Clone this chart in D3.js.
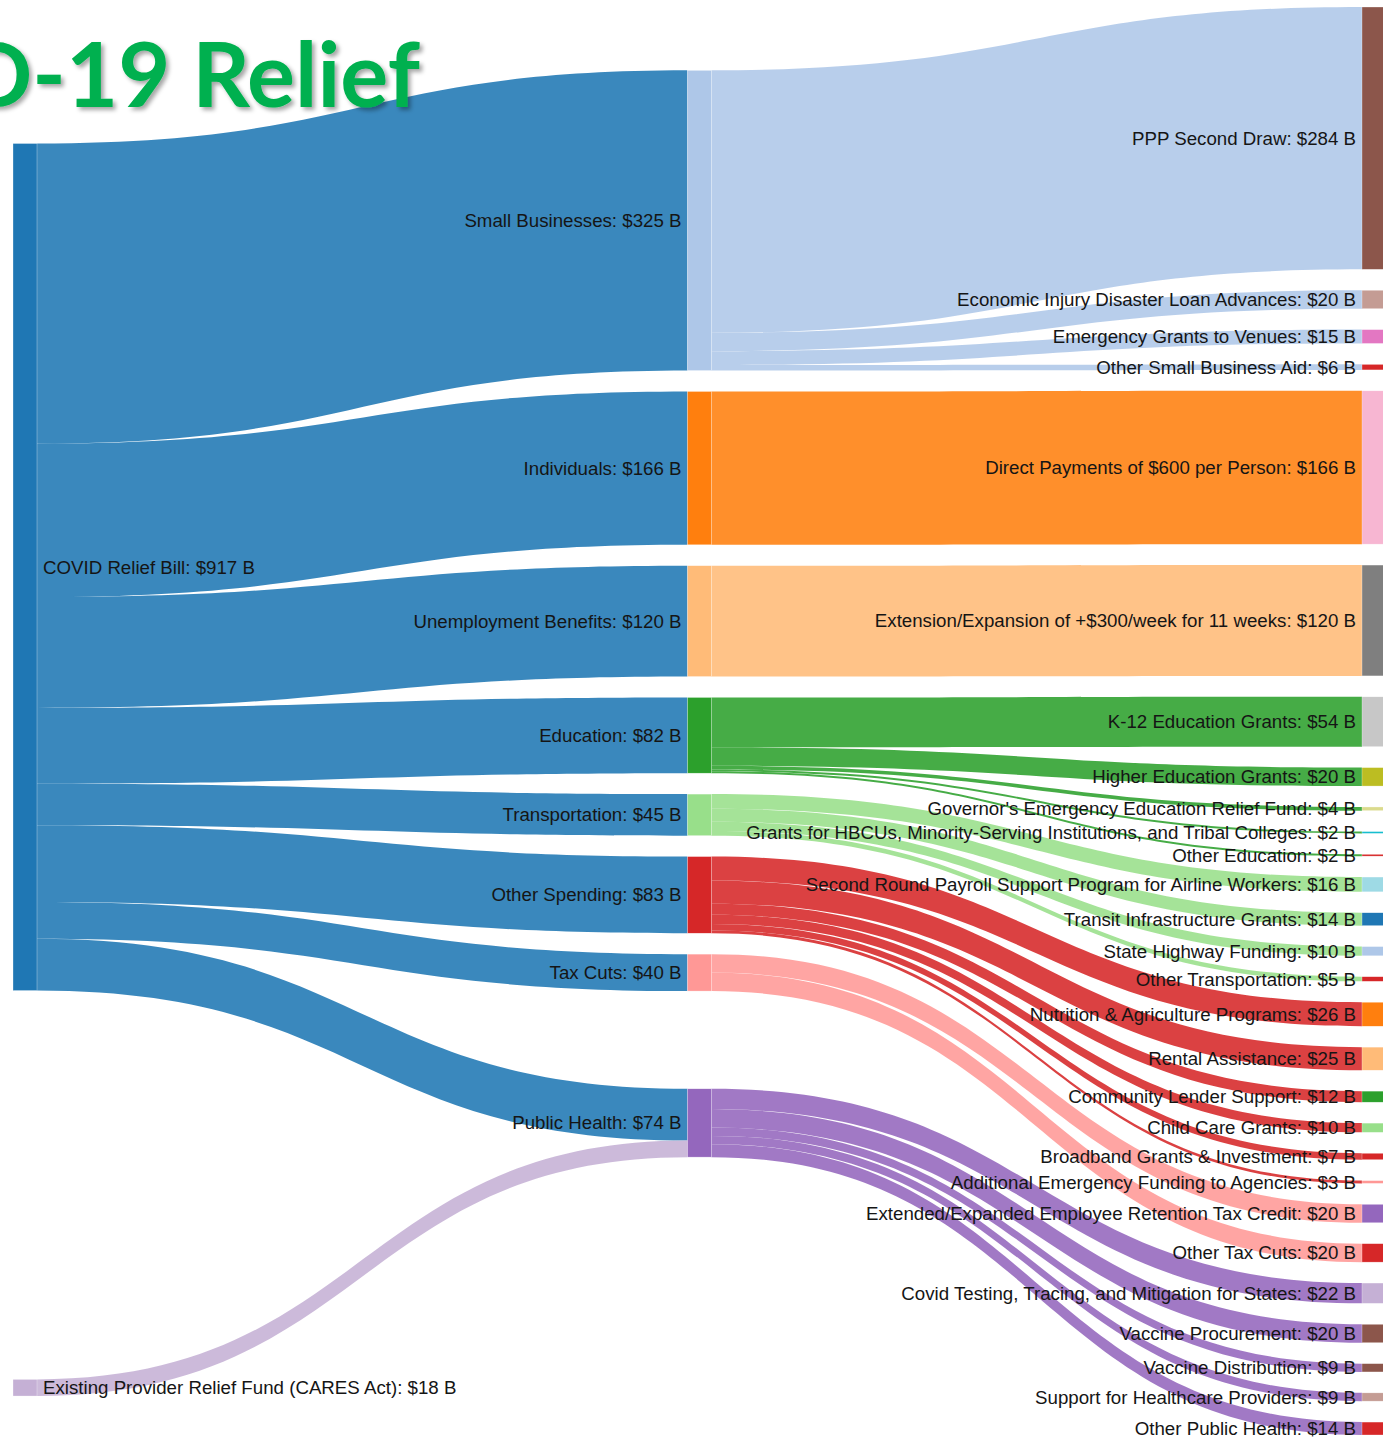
<!DOCTYPE html>
<html>
<head>
<meta charset="utf-8">
<script src="https://cdn.jsdelivr.net/npm/d3@7"></script>
<style>
  html, body { margin: 0; padding: 0; background: #fff; }
  svg { display: block; }
</style>
</head>
<body>
<svg id="chart" width="1383" height="1440"></svg>
<script>
// ---------------- DATA ----------------
const titleText = "COVID-19 Relief";
const billName = "COVID Relief Bill";
const caresName = "Existing Provider Relief Fund (CARES Act)";
const categories = ["Small Businesses", "Individuals", "Unemployment Benefits", "Education",
  "Transportation", "Other Spending", "Tax Cuts", "Public Health"];
const billToCategory = [325, 166, 120, 82, 45, 83, 40, 56];
const caresToPublicHealth = 18;

const smallBusinessItems = ["PPP Second Draw", "Economic Injury Disaster Loan Advances",
  "Emergency Grants to Venues", "Other Small Business Aid"];
const smallBusinessValues = [284, 20, 15, 6];
const individualsItems = ["Direct Payments of $600 per Person"];
const individualsValues = [166];
const unemploymentItems = ["Extension/Expansion of +$300/week for 11 weeks"];
const unemploymentValues = [120];
const educationItems = ["K-12 Education Grants", "Higher Education Grants",
  "Governor's Emergency Education Relief Fund",
  "Grants for HBCUs, Minority-Serving Institutions, and Tribal Colleges", "Other Education"];
const educationValues = [54, 20, 4, 2, 2];
const transportationItems = ["Second Round Payroll Support Program for Airline Workers",
  "Transit Infrastructure Grants", "State Highway Funding", "Other Transportation"];
const transportationValues = [16, 14, 10, 5];
const otherSpendingItems = ["Nutrition & Agriculture Programs", "Rental Assistance",
  "Community Lender Support", "Child Care Grants", "Broadband Grants & Investment",
  "Additional Emergency Funding to Agencies"];
const otherSpendingValues = [26, 25, 12, 10, 7, 3];
const taxCutItems = ["Extended/Expanded Employee Retention Tax Credit", "Other Tax Cuts"];
const taxCutValues = [20, 20];
const publicHealthItems = ["Covid Testing, Tracing, and Mitigation for States",
  "Vaccine Procurement", "Vaccine Distribution", "Support for Healthcare Providers",
  "Other Public Health"];
const publicHealthValues = [22, 20, 9, 9, 14];

// ---------------- STYLE ----------------
const RED = "#d62728";
const sourceColors = { [billName]: "#1f77b4", [caresName]: "#c5b0d5" };
const categoryColors = ["#aec7e8", "#ff7f0e", "#ffbb78", "#2ca02c", "#98df8a", "#d62728", "#ff9896", "#9467bd"];
const itemColors = [
  ["#8c564b", "#c49c94", "#e377c2", RED],
  ["#f7b6d2"],
  ["#7f7f7f"],
  ["#c7c7c7", "#bcbd22", "#dbdb8d", "#17becf", RED],
  ["#9edae5", "#1f77b4", "#aec7e8", RED],
  ["#ff7f0e", "#ffbb78", "#2ca02c", "#98df8a", "#d62728", "#ff9896"],
  ["#9467bd", RED],
  ["#c5b0d5", "#8c564b", "#8c564b", "#c49c94", RED]
];

// ---------------- GRAPH ----------------
const itemGroups = [
  [smallBusinessItems, smallBusinessValues], [individualsItems, individualsValues],
  [unemploymentItems, unemploymentValues], [educationItems, educationValues],
  [transportationItems, transportationValues], [otherSpendingItems, otherSpendingValues],
  [taxCutItems, taxCutValues], [publicHealthItems, publicHealthValues]
];

const nodes = [];
const links = [];
function addNode(name, depth, color) {
  const n = { name, depth, color, sourceLinks: [], targetLinks: [], index: nodes.length };
  nodes.push(n); return n;
}
function addLink(s, t, v) {
  const l = { source: s, target: t, value: v, index: links.length };
  s.sourceLinks.push(l); t.targetLinks.push(l); links.push(l);
}
const billNode = addNode(billName, 0, sourceColors[billName]);
const caresNode = addNode(caresName, 0, sourceColors[caresName]);
const catNodes = categories.map((c, i) => addNode(c, 1, categoryColors[i]));
catNodes.forEach((cn, i) => addLink(billNode, cn, billToCategory[i]));
addLink(caresNode, catNodes[7], caresToPublicHealth);
itemGroups.forEach(([names, vals], gi) => {
  names.forEach((nm, j) => {
    const n = addNode(nm, 2, itemColors[gi][j]);
    addLink(catNodes[gi], n, vals[j]);
  });
});
nodes.forEach(n => {
  n.value = Math.max(d3.sum(n.sourceLinks, l => l.value), d3.sum(n.targetLinks, l => l.value));
});

// ---------------- LAYOUT (sankey, fixed node order) ----------------
const ext = { x0: 13, x1: 1386, y0: 7, y1: 1435 };
const nodeWidth = 24, iterations = 1;
const columns = d3.groups(nodes, d => d.depth).sort((a, b) => a[0] - b[0]).map(d => d[1]);
const maxLen = d3.max(columns, c => c.length);
const py = Math.min(20.9, (ext.y1 - ext.y0) / (maxLen - 1));

const xScale = d3.scaleLinear().domain([0, columns.length - 1]).range([ext.x0, ext.x1 - nodeWidth]);
nodes.forEach(n => { n.x0 = xScale(n.depth); n.x1 = n.x0 + nodeWidth; });

const fitCol = columns.reduce((best, col) => {
  const k = (ext.y1 - ext.y0 - (col.length - 1) * py) / d3.sum(col, d => d.value);
  return (!best || k < best.k) ? { k, col } : best;
}, null);
const vScale = d3.scaleLinear()
  .domain([0, d3.sum(fitCol.col, d => d.value)])
  .range([0, ext.y1 - ext.y0 - (fitCol.col.length - 1) * py]);
links.forEach(l => { l.width = vScale(l.value); });

const byBreadth = (a, b) => a.y0 - b.y0;
const byTarget = (a, b) => byBreadth(a.target, b.target) || a.index - b.index;
const bySource = (a, b) => byBreadth(a.source, b.source) || a.index - b.index;
function reorderLinks(col) {
  col.forEach(n => { n.sourceLinks.sort(byTarget); n.targetLinks.sort(bySource); });
}
function reorderNodeLinks(node) {
  node.targetLinks.forEach(l => l.source.sourceLinks.sort(byTarget));
  node.sourceLinks.forEach(l => l.target.targetLinks.sort(bySource));
}
function targetTop(source, target) {
  let y = source.y0 - (source.sourceLinks.length - 1) * py / 2;
  for (const l of source.sourceLinks) { if (l.target === target) break; y += l.width + py; }
  for (const l of target.targetLinks) { if (l.source === source) break; y -= l.width; }
  return y;
}
function sourceTop(source, target) {
  let y = target.y0 - (target.targetLinks.length - 1) * py / 2;
  for (const l of target.targetLinks) { if (l.source === source) break; y += l.width + py; }
  for (const l of source.sourceLinks) { if (l.target === target) break; y -= l.width; }
  return y;
}
function collideTopToBottom(col, y, i, a) {
  for (; i < col.length; ++i) {
    const n = col[i]; const dy = (y - n.y0) * a;
    if (dy > 1e-6) { n.y0 += dy; n.y1 += dy; }
    y = n.y1 + py;
  }
}
function collideBottomToTop(col, y, i, a) {
  for (; i >= 0; --i) {
    const n = col[i]; const dy = (n.y1 - y) * a;
    if (dy > 1e-6) { n.y0 -= dy; n.y1 -= dy; }
    y = n.y0 - py;
  }
}
function resolveCollisions(col, a) {
  const i = col.length >> 1; const s = col[i];
  collideBottomToTop(col, s.y0 - py, i - 1, a);
  collideTopToBottom(col, s.y1 + py, i + 1, a);
  collideBottomToTop(col, ext.y1, col.length - 1, a);
  collideTopToBottom(col, ext.y0, 0, a);
}
function relaxLeftToRight(alpha, beta) {
  for (let i = 1; i < columns.length; ++i) {
    for (const t of columns[i]) {
      let y = 0, w = 0;
      for (const l of t.targetLinks) {
        const v = l.value * (t.depth - l.source.depth);
        y += targetTop(l.source, t) * v; w += v;
      }
      if (!(w > 0)) continue;
      const dy = (y / w - t.y0) * alpha;
      t.y0 += dy; t.y1 += dy; reorderNodeLinks(t);
    }
    resolveCollisions(columns[i], beta);
  }
}
function relaxRightToLeft(alpha, beta) {
  for (let i = columns.length - 2; i >= 0; --i) {
    for (const s of columns[i]) {
      let y = 0, w = 0;
      for (const l of s.sourceLinks) {
        const v = l.value * (l.target.depth - s.depth);
        y += sourceTop(s, l.target) * v; w += v;
      }
      if (!(w > 0)) continue;
      const dy = (y / w - s.y0) * alpha;
      s.y0 += dy; s.y1 += dy; reorderNodeLinks(s);
    }
    resolveCollisions(columns[i], beta);
  }
}
columns.forEach(col => {
  let y = ext.y0;
  col.forEach(n => { n.y0 = y; n.y1 = y + vScale(n.value); y = n.y1 + py; });
  const gap = (ext.y1 - y + py) / (col.length + 1);
  col.forEach((n, i) => { n.y0 += gap * (i + 1); n.y1 += gap * (i + 1); });
  reorderLinks(col);
});
for (let i = 0; i < iterations; ++i) {
  const alpha = Math.pow(0.99, i);
  const beta = Math.max(1 - alpha, (i + 1) / iterations);
  relaxRightToLeft(alpha, beta);
  relaxLeftToRight(alpha, beta);
}
nodes.forEach(n => {
  let ys = n.y0, yt = n.y0;
  n.sourceLinks.forEach(l => { l.y0 = ys + l.width / 2; ys += l.width; });
  n.targetLinks.forEach(l => { l.y1 = yt + l.width / 2; yt += l.width; });
});
const center = n => (n.y0 + n.y1) / 2;

function linkPath(d) {
  const x0 = d.source.x1, x1 = d.target.x0;
  const xi = d3.interpolateNumber(x0, x1);
  const x2 = xi(0.5), x3 = xi(0.5);
  const y0a = d.y0 - d.width / 2, y0b = d.y0 + d.width / 2;
  const y1a = d.y1 - d.width / 2, y1b = d.y1 + d.width / 2;
  return `M${x0},${y0a}C${x2},${y0a} ${x3},${y1a} ${x1},${y1a}L${x1},${y1b}C${x3},${y1b} ${x2},${y0b} ${x0},${y0b}Z`;
}

// ---------------- DRAW ----------------
const svg = d3.select("#chart");
const defs = svg.append("defs");
const f = defs.append("filter").attr("id", "shadow").attr("x", "-10%").attr("y", "-10%").attr("width", "130%").attr("height", "140%");
f.append("feDropShadow").attr("dx", 3).attr("dy", 3).attr("stdDeviation", 2)
  .attr("flood-color", "#000").attr("flood-opacity", 0.35);

svg.append("g").selectAll("path").data(links).join("path")
  .attr("d", linkPath)
  .attr("fill", d => d.source.color)
  .attr("fill-opacity", 0.88)
  .attr("stroke", "none");

svg.append("g").selectAll("rect").data(nodes).join("rect")
  .attr("x", d => d.x0).attr("y", d => d.y0)
  .attr("width", d => d.x1 - d.x0).attr("height", d => Math.max(1, d.y1 - d.y0))
  .attr("fill", d => d.color)
  .attr("stroke", "#fff").attr("stroke-width", 0.5).attr("stroke-opacity", 0.6);

svg.append("g").selectAll("text").data(nodes).join("text")
  .attr("x", d => d.depth === 0 ? d.x1 + 6 : d.x0 - 6)
  .attr("y", d => center(d))
  .attr("dy", "0.35em")
  .attr("text-anchor", d => d.depth === 0 ? "start" : "end")
  .attr("font-family", "'Liberation Sans', Arial, sans-serif")
  .attr("font-size", 18.7)
  .attr("fill", "#151515")
  .text(d => `${d.name}: $${d.value} B`);

svg.append("text")
  .attr("x", 420).attr("y", 107)
  .attr("text-anchor", "end")
  .attr("font-family", "Lato, 'Open Sans', sans-serif")
  .attr("font-weight", 700)
  .attr("font-size", 90)
  .attr("fill", "#00b050")
  .attr("filter", "url(#shadow)")
  .text(titleText);
</script>
</body>
</html>
